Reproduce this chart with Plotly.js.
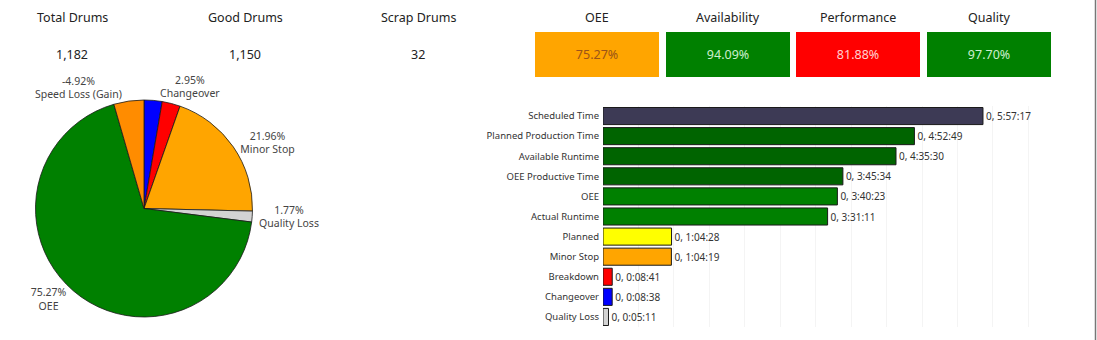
<!DOCTYPE html>
<html>
<head>
<meta charset="utf-8">
<script src="https://cdn.plot.ly/plotly-3.0.1.min.js"></script>
<style>
  html, body { margin: 0; padding: 0; background: #ffffff; }
  #chart { width: 1097px; height: 340px; }
</style>
</head>
<body>
<div id="chart"></div>
<script>
// ---- Data ----
const kpiTitles = ['Total Drums', 'Good Drums', 'Scrap Drums'];
const kpiValues = [1182, 1150, 32];

const metricNames = ['OEE', 'Availability', 'Performance', 'Quality'];
const metricValues = [75.27, 94.09, 81.88, 97.70];
const metricColors = ['#ffa500', '#008000', '#ff0000', '#008000'];
const metricTextColors = ['#9a5418', '#cdeecd', '#ffd2d2', '#cdeecd'];

const pieLabels = ['Changeover', 'Breakdown', 'Minor Stop', 'Quality Loss', 'OEE', 'Speed Loss (Gain)'];
const piePct = [2.95, 2.97, 21.96, 1.77, 75.27, -4.92];
const pieShowLabel = [true, false, true, true, true, true];
const pieColors = ['#0000ff', '#ff0000', '#ffa500', '#d3d3d3', '#008000', '#ff8c00'];

const barCats = ['Scheduled Time', 'Planned Production Time', 'Available Runtime', 'OEE Productive Time',
  'OEE', 'Actual Runtime', 'Planned', 'Minor Stop', 'Breakdown', 'Changeover', 'Quality Loss'];
const barTimes = ['5:57:17', '4:52:49', '4:35:30', '3:45:34', '3:40:23', '3:31:11',
  '1:04:28', '1:04:19', '0:08:41', '0:08:38', '0:05:11'];
const barColors = ['#3d3a55', '#006400', '#006400', '#006400', '#008000', '#008000',
  '#ffff00', '#ffa500', '#ff0000', '#0000ff', '#d3d3d3'];

// ---- Helpers ----
const W = 1097, H = 340;
const px = v => v / W;
const py = v => 1 - v / H;
const toSec = s => { const p = s.split(':').map(Number); return p[0] * 3600 + p[1] * 60 + p[2]; };
const FONT = 'Noto Sans, Open Sans, sans-serif';

// ---- Traces ----
const pieTrace = {
  type: 'pie',
  labels: pieLabels,
  values: piePct.map(Math.abs),
  text: piePct.map((v, i) => pieShowLabel[i] ? v.toFixed(2) + '%<br>' + pieLabels[i] : ''),
  textinfo: 'text',
  textposition: 'outside',
  sort: false,
  direction: 'clockwise',
  rotation: 0,
  automargin: false,
  hoverinfo: 'label+text',
  marker: { colors: pieColors, line: { color: '#1a1a1a', width: 0.8 } },
  outsidetextfont: { family: FONT, size: 10.5, color: '#444' },
  domain: { x: [px(35.5), px(252.5)], y: [py(317), py(100)] },
  showlegend: false
};

const barSecs = barTimes.map(toSec);
const barTrace = {
  type: 'bar',
  orientation: 'h',
  x: barSecs,
  y: barCats,
  text: barTimes.map(t => '0, ' + t),
  textposition: 'outside',
  cliponaxis: false,
  textfont: { family: FONT, size: 10, color: '#333' },
  marker: { color: barColors, line: { color: '#1a1a1a', width: 1 } },
  xaxis: 'x', yaxis: 'y',
  showlegend: false,
  hoverinfo: 'y+text'
};

// ---- Annotations ----
const annotations = [];
const kpiX = [72, 245, 418];
kpiTitles.forEach((t, i) => {
  annotations.push({ text: t, x: px(kpiX[i]), y: py(17), xref: 'paper', yref: 'paper',
    xanchor: 'center', yanchor: 'middle', showarrow: false, font: { family: FONT, size: 12.5, color: '#222' } });
  annotations.push({ text: kpiValues[i].toLocaleString('en-US'), x: px(kpiX[i]), y: py(55), xref: 'paper', yref: 'paper',
    xanchor: 'center', yanchor: 'middle', showarrow: false, font: { family: FONT, size: 12.5, color: '#222' } });
});
const boxLeft = [535, 666, 796, 927];
const boxW = 124, boxH = 45, boxTop = 32;
metricNames.forEach((m, i) => {
  const cx = boxLeft[i] + boxW / 2;
  annotations.push({ text: m, x: px(cx), y: py(17), xref: 'paper', yref: 'paper',
    xanchor: 'center', yanchor: 'middle', showarrow: false, font: { family: FONT, size: 12.5, color: '#222' } });
  annotations.push({ text: metricValues[i].toFixed(2) + '%', x: px(cx), y: py(boxTop + boxH / 2), xref: 'paper', yref: 'paper',
    xanchor: 'center', yanchor: 'middle', showarrow: false, width: boxW, height: boxH, bgcolor: metricColors[i],
    borderpad: 0, borderwidth: 0, font: { family: FONT, size: 12.5, color: metricTextColors[i] } });
});

const layout = {
  width: W, height: H,
  margin: { l: 0, r: 0, t: 0, b: 0 },
  paper_bgcolor: '#ffffff', plot_bgcolor: '#ffffff',
  font: { family: FONT, color: '#333' },
  bargap: 0.15,
  xaxis: {
    domain: [px(603), px(1055)],
    range: [0, 25500],
    showticklabels: false, ticks: '',
    showgrid: true, gridcolor: '#f4f4f4', gridwidth: 1, dtick: 2000,
    zeroline: false, showline: false, fixedrange: true
  },
  yaxis: {
    domain: [py(327), py(106)],
    type: 'category',
    autorange: 'reversed',
    ticks: '', showline: false, showgrid: false, zeroline: false,
    ticklabelstandoff: 3,
    tickfont: { family: FONT, size: 9.5, color: '#333' },
    anchor: 'x', fixedrange: true
  },
  annotations: annotations,
  shapes: [
    { type: 'line', xref: 'paper', yref: 'paper', x0: px(1095.5), x1: px(1095.5), y0: 0, y1: 1,
      line: { color: '#777', width: 1.5 } }
  ]
};

Plotly.newPlot('chart', [pieTrace, barTrace], layout, { displayModeBar: false, staticPlot: true });
</script>
</body>
</html>
